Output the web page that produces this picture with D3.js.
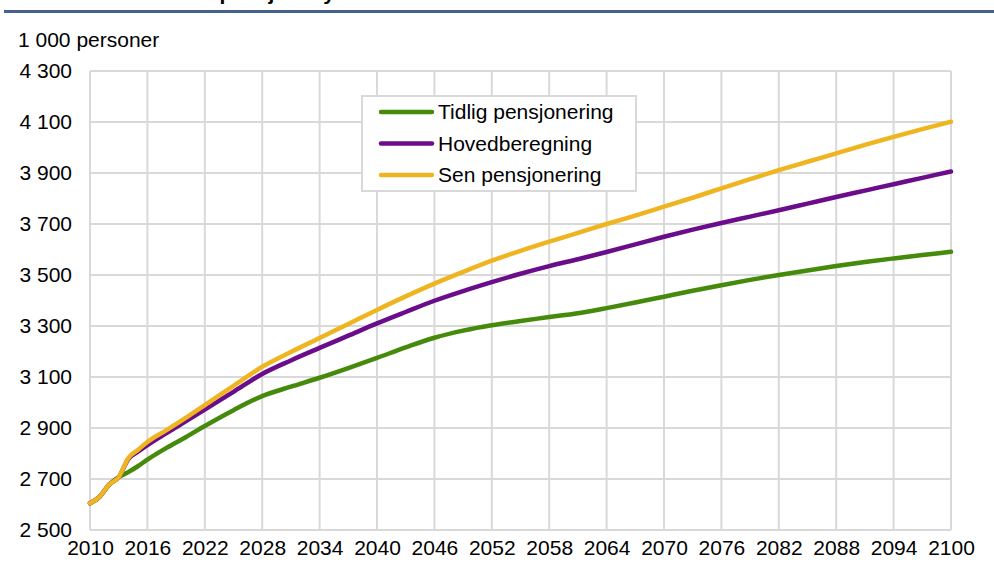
<!DOCTYPE html>
<html>
<head>
<meta charset="utf-8">
<script src="https://cdn.jsdelivr.net/npm/d3@7"></script>
<style>
  html, body { margin: 0; padding: 0; background: #fff; }
  svg text { font-family: "Liberation Sans", Arial, sans-serif; fill: #000; }
</style>
</head>
<body>
<svg id="chart" width="994" height="568"></svg>
<script>
const years = [2010,2011,2012,2013,2014,2015,2016,2018,2020,2022,2025,2028,2031,2034,2037,2040,2043,2046,2049,2052,2055,2058,2061,2064,2067,2070,2073,2076,2079,2082,2085,2088,2091,2094,2097,2100];
const tidlig = [2605,2630,2678,2707,2727,2750,2776,2822,2864,2908,2970,3025,3062,3097,3135,3175,3216,3254,3282,3303,3320,3335,3350,3370,3392,3415,3438,3460,3481,3500,3518,3535,3551,3565,3578,3591];
const hoved  = [2605,2630,2678,2707,2778,2807,2833,2880,2926,2972,3042,3112,3165,3214,3262,3310,3355,3399,3437,3472,3505,3535,3562,3590,3620,3650,3678,3704,3729,3754,3780,3806,3831,3856,3881,3906];
const sen    = [2605,2630,2678,2707,2782,2814,2845,2892,2940,2990,3065,3140,3198,3253,3308,3363,3416,3466,3512,3556,3595,3631,3665,3700,3733,3768,3803,3840,3876,3911,3944,3977,4010,4042,4072,4101];
const seriesNames = ["Tidlig pensjonering","Hovedberegning","Sen pensjonering"];
const seriesColors = ["#458A0A","#6B0C8A","#EFB521"];
const xTicks = [2010,2016,2022,2028,2034,2040,2046,2052,2058,2064,2070,2076,2082,2088,2094,2100];
const yTicks = [2500,2700,2900,3100,3300,3500,3700,3900,4100,4300];
const unitLabel = "1 000 personer";
const titleText = "Totalt pensjonssystem";

const svg = d3.select("#chart");
const x = d3.scaleLinear().domain([2010,2100]).range([90,951]);
const y = d3.scaleLinear().domain([2500,4300]).range([530,71]);
const fmt = v => d3.format(",")(v).replace(/,/g," ");
const FS = 21;

// Header (title is cut off at the top edge, as in the reference)
svg.append("text").attr("x",158).attr("y",0).attr("font-weight","bold").attr("font-size",FS).text(titleText);
svg.append("rect").attr("x",4).attr("y",10).attr("width",990).attr("height",3).attr("fill","#44618F");
svg.append("text").attr("x",18).attr("y",47).attr("font-size",FS).text(unitLabel);

// Grid
const grid = svg.append("g");
grid.selectAll("line.v").data(xTicks).join("line")
  .attr("x1",d=>x(d)).attr("x2",d=>x(d)).attr("y1",y(4300)).attr("y2",y(2500))
  .attr("stroke","#D9D9D9").attr("stroke-width",2);
grid.selectAll("line.h").data(yTicks).join("line")
  .attr("x1",x(2010)).attr("x2",x(2100)).attr("y1",d=>y(d)).attr("y2",d=>y(d))
  .attr("stroke","#D9D9D9").attr("stroke-width",2);

// Axes
const yAxis = d3.axisLeft(y).tickValues(yTicks).tickFormat(fmt).tickSize(0).tickPadding(18);
const gy = svg.append("g").attr("transform",`translate(${x(2010)},0)`).call(yAxis);
gy.select(".domain").remove();
gy.selectAll("text").attr("font-size",FS).attr("font-family","Liberation Sans, Arial, sans-serif").attr("fill","#000");

const xAxis = d3.axisBottom(x).tickValues(xTicks).tickFormat(d3.format("d")).tickSize(0).tickPadding(10);
const gx = svg.append("g").attr("transform",`translate(0,${y(2500)})`).call(xAxis);
gx.select(".domain").remove();
gx.selectAll("text").attr("font-size",FS).attr("font-family","Liberation Sans, Arial, sans-serif").attr("fill","#000");

// Lines
const allSeries = [tidlig, hoved, sen];
const line = d3.line().x((d,i)=>x(years[i])).y(d=>y(d)).curve(d3.curveMonotoneX);
svg.append("g").selectAll("path").data(allSeries).join("path")
  .attr("d", d=>line(d)).attr("fill","none")
  .attr("stroke",(d,i)=>seriesColors[i]).attr("stroke-width",4.5)
  .attr("stroke-linejoin","round").attr("stroke-linecap","round");

// Legend
const lg = svg.append("g");
lg.append("rect").attr("x",362).attr("y",96).attr("width",274).attr("height",95)
  .attr("fill","#fff").attr("stroke","#D9D9D9").attr("stroke-width",2);
const rows = [112,143.5,175];
seriesNames.forEach((n,i)=>{
  lg.append("line").attr("x1",381).attr("x2",432).attr("y1",rows[i]).attr("y2",rows[i])
    .attr("stroke",seriesColors[i]).attr("stroke-width",4.5).attr("stroke-linecap","round");
  lg.append("text").attr("x",438).attr("y",rows[i]).attr("dy","0.35em").attr("font-size",FS).text(n);
});
</script>
</body>
</html>
